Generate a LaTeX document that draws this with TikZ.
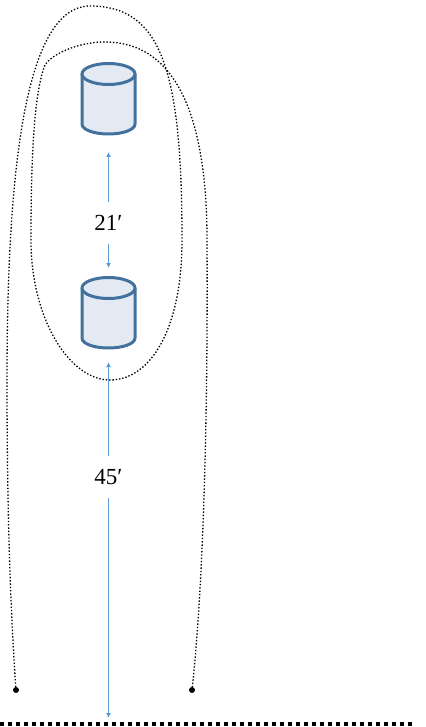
\documentclass[tikz,border=0pt]{standalone}
\usepackage{fontspec}
\setmainfont{Liberation Serif}
\usetikzlibrary{arrows.meta}
\definecolor{cylline}{HTML}{41719C}
\definecolor{cylfill}{HTML}{E3EAF4}
\definecolor{arrowblue}{HTML}{5B9BD5}
\tikzset{
  cylanchor/.style={minimum width=53pt,minimum height=71pt,inner sep=0pt,outer sep=0pt},
  cylpart/.style={draw=cylline,fill=cylfill,line width=3pt,line join=round},
  dimlabel/.style={font=\fontsize{23}{26}\selectfont,minimum height=42pt,inner sep=0pt,outer sep=0pt,text depth=0pt},
  dimarrow/.style={draw=arrowblue,line width=1pt,-{Latex[length=5pt,width=5pt]}},
  loopcurve/.style={line width=1.3pt,dash pattern=on 1.4pt off 1.9pt,black},
  dotend/.style={circle,fill=black,minimum size=6pt,inner sep=0pt,outer sep=0pt},
  groundline/.style={line width=4pt,dash pattern=on 4pt off 4pt,black}
}
\newcommand{\drumshape}[1]{%
  \begin{scope}[shift={(#1.center)}]
    \draw[cylpart] (-26.5,25.5) .. controls (-26.5,31.3) and (-14.6,35.5) .. (0,35.5)
      .. controls (14.6,35.5) and (26.5,31.3) .. (26.5,25.5) -- (26.5,-24.5) -- (-26.5,-24.5) -- cycle;
    \draw[cylpart] (0,-24.5) ellipse [x radius=26.5pt,y radius=10.5pt];
  \end{scope}}
\begin{document}
\begin{tikzpicture}[x=1pt,y=-1pt]
\useasboundingbox (0,0) rectangle (425,727);
\node[cylanchor] (c1) at (108.5,98.5) {};
\node[cylanchor] (c2) at (108.5,312.5) {};
\drumshape{c1}
\drumshape{c2}
\node[dimlabel] (l1) at (108.5,223) {21′};
\node[dimlabel] (l2) at (108.5,477) {45′};
\node[dotend] (d1) at (16,690) {};
\node[dotend] (d2) at (192,690) {};
\coordinate (g0) at (0,724);
\coordinate (g1) at (414,724);
\coordinate (gm) at (108.5,724);
\draw[dimarrow,shorten >=18pt] (l1.north) -- (c1.south);
\draw[dimarrow,shorten >=9pt] (l1.south) -- (c2.north);
\draw[dimarrow,shorten >=14pt] (l2.north) -- (c2.south);
\draw[dimarrow,shorten >=6pt] (l2.south) -- (gm);
\draw[groundline] (g0) -- (g1);
\draw[loopcurve] (d1) .. controls (9,590) and (7,480) .. (7,380)
  .. controls (7,170) and (25,6) .. (90,6)
  .. controls (162,6) and (182,72) .. (182,240)
  .. controls (182,330) and (150,380) .. (110,380)
  .. controls (70,380) and (31,320) .. (31,240)
  .. controls (31,170) and (33,95) .. (45,65)
  .. controls (52,54) and (78,42) .. (105,42)
  .. controls (180,42) and (207,125) .. (207,240)
  .. controls (208,400) and (204,580) .. (d2);
\end{tikzpicture}
\end{document}
